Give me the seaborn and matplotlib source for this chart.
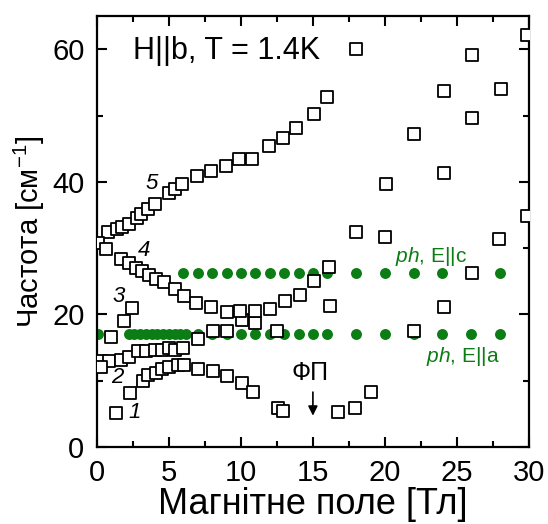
import numpy as np
import pandas as pd
import matplotlib
matplotlib.use("Agg")
import matplotlib.pyplot as plt
from matplotlib.ticker import MultipleLocator
import seaborn as sns

# ─────────────────────────────────────────────
# DATA
# ─────────────────────────────────────────────
# branch 5 (upper, rising)
x5 = [0.75, 1.4, 1.75, 2.25, 2.75, 3.05, 3.55, 4.05, 5.0, 5.4, 5.9, 6.95, 7.9,
      8.95, 9.9, 10.8, 11.95, 12.9, 13.8, 15.05, 15.95]
y5 = [32.4, 32.9, 33.2, 33.7, 34.6, 35.2, 35.9, 36.6, 38.4, 39.0, 39.7, 40.9, 41.7,
      42.4, 43.5, 43.5, 45.4, 46.7, 48.1, 50.2, 52.8]

# branch 4 (falling, then rising again)
x4 = [0.1, 0.6, 1.65, 2.25, 2.7, 3.15, 3.6, 4.1, 4.65, 5.4, 6.05, 6.9, 7.9, 9.0,
      10.1, 11.0, 9.95, 11.0, 12.05, 13.05, 14.1, 15.05, 16.1]
y4 = [30.8, 29.8, 28.4, 27.7, 27.0, 26.5, 26.0, 25.4, 24.9, 23.9, 22.8, 21.8, 21.1, 20.3,
      19.2, 18.7, 20.5, 20.5, 20.8, 22.0, 23.0, 25.1, 27.2]

# branch 3
x3 = [1.0, 1.85, 2.4]
y3 = [16.6, 19.0, 20.9]

# branch 2
x2 = [0.3, 0.8, 0.3, 1.7, 2.25, 2.85, 3.4, 4.0, 4.5, 5.0, 5.45, 6.0, 7.0, 8.05, 9.05, 12.5]
y2 = [13.0, 13.0, 12.0, 13.2, 13.6, 14.5, 14.5, 14.7, 14.7, 15.0, 14.7, 15.0, 16.3, 17.5, 17.5, 17.5]

# branch 1
x1 = [1.3, 2.3, 3.2, 3.55, 4.1, 4.55, 5.0, 5.6, 6.05, 7.05, 8.05, 9.0, 10.05, 10.85, 12.6, 12.9]
y1 = [5.1, 8.1, 10.0, 10.9, 11.2, 11.7, 12.1, 12.3, 12.3, 11.7, 11.5, 10.7, 9.6, 8.3, 5.9, 5.4]

# high field lines (after the phase transition)
xh = [16.75, 17.9, 19.05, 16.2, 22.05, 24.1, 26.05, 18.0, 20.0, 27.9, 29.85, 20.1,
      24.1, 22.05, 26.05, 24.1, 28.05, 26.05, 18.0, 29.85]
yh = [5.3, 5.9, 8.3, 21.2, 17.5, 21.05, 26.3, 32.5, 31.7, 31.4, 34.8, 39.7,
      41.4, 47.2, 49.7, 53.7, 54.0, 59.1, 60.0, 62.1]

# phonons
ph_c_x = [6, 7, 8, 9, 10, 11, 12, 13, 14, 15, 16, 18, 20, 22, 24, 26, 28]
ph_c_y = 26.2
ph_a_x = [0.1, 2.2, 2.6, 3.0, 3.4, 3.8, 4.2, 4.6, 5.0, 5.4, 5.8, 6.2, 7, 8, 9, 10,
          11, 12, 13, 14, 15, 16, 18, 20, 22, 24, 26, 28]
ph_a_y = 17.1

squares = pd.DataFrame({
    "B": x5 + x4 + x3 + x2 + x1 + xh,
    "f": y5 + y4 + y3 + y2 + y1 + yh,
})
phonons = pd.DataFrame({
    "B": ph_c_x + ph_a_x,
    "f": [ph_c_y] * len(ph_c_x) + [ph_a_y] * len(ph_a_x),
})

# ─────────────────────────────────────────────
# PLOT
# ─────────────────────────────────────────────
sns.set_style("ticks")
plt.rcParams["font.family"] = ["Liberation Sans", "DejaVu Sans"]
plt.rcParams["mathtext.fontset"] = "custom"
plt.rcParams["mathtext.rm"] = "Liberation Sans"
plt.rcParams["mathtext.it"] = "Liberation Sans:italic"
plt.rcParams["mathtext.default"] = "regular"
plt.rcParams["text.color"] = "black"
plt.rcParams["axes.labelcolor"] = "black"
plt.rcParams["axes.edgecolor"] = "black"
plt.rcParams["xtick.color"] = "black"
plt.rcParams["ytick.color"] = "black"

green = "#0b7d14"

fig = plt.figure(figsize=(5.48, 5.24), dpi=100)
ax = fig.add_axes([0.177, 0.147, 0.788, 0.822])

sns.scatterplot(data=phonons, x="B", y="f", ax=ax, color=green, marker="o",
                s=62, edgecolor=green, linewidth=0, zorder=2)
sns.scatterplot(data=squares, x="B", y="f", ax=ax, marker="s", s=76,
                facecolor="white", edgecolor="black", linewidth=1.3, zorder=3)

ax.set_xlim(0, 30)
ax.set_ylim(0, 65)
ax.xaxis.set_major_locator(MultipleLocator(5))
ax.xaxis.set_minor_locator(MultipleLocator(2.5))
ax.yaxis.set_major_locator(MultipleLocator(20))
ax.yaxis.set_minor_locator(MultipleLocator(10))
ax.tick_params(which="both", direction="in", top=True, right=True, width=1.5)
ax.tick_params(which="major", length=7, labelsize=21, pad=9)
ax.tick_params(which="minor", length=4)
for sp in ax.spines.values():
    sp.set_linewidth(1.6)

ax.set_xlabel("Магнітне поле [Тл]", fontsize=26, labelpad=0)
ax.set_ylabel("Частота [см$^{-1}$]", fontsize=21, labelpad=4)

ax.text(2.5, 59.7, "H||b, T = 1.4K", fontsize=22, va="center", ha="left")

# branch numbers
for lbl, bx, by in [("5", 3.8, 39.8), ("4", 3.3, 29.6), ("3", 1.5, 22.7),
                    ("2", 1.4, 10.5), ("1", 2.6, 5.2)]:
    ax.text(bx, by, lbl, fontsize=16, style="italic", ha="center", va="center")

# phase transition marker
ax.text(14.8, 11.2, "ФП", fontsize=18, ha="center", va="center")
ax.annotate("", xy=(15.0, 4.3), xytext=(15.0, 8.7),
            arrowprops=dict(arrowstyle="-|>", color="black", lw=1.2,
                            mutation_scale=14))

ax.text(23.2, 28.8, "$\\it{ph}$, E||c", fontsize=15, color=green,
        ha="center", va="center")
ax.text(25.4, 13.7, "$\\it{ph}$, E||a", fontsize=15, color=green,
        ha="center", va="center")

plt.savefig("out.png", dpi=100)
